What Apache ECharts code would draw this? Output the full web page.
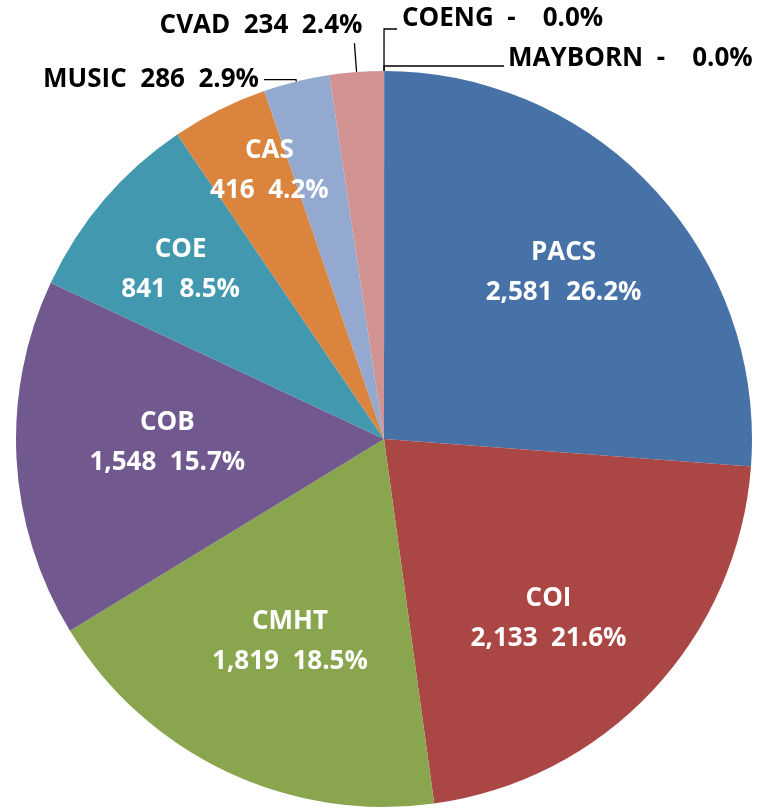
<!DOCTYPE html>
<html>
<head>
<meta charset="utf-8">
<script src="https://cdn.jsdelivr.net/npm/echarts@6/dist/echarts.min.js"></script>
<style>
  html, body { margin: 0; padding: 0; background: #fff; }
  #chart { width: 762px; height: 809px; }
</style>
</head>
<body>
<div id="chart"></div>
<script>
var names = ['PACS', 'COI', 'CMHT', 'COB', 'COE', 'CAS', 'MUSIC', 'CVAD', 'COENG', 'MAYBORN'];
var counts = [2581, 2133, 1819, 1548, 841, 416, 286, 234, 0, 0];
var colors = ['#4672A8', '#AA4644', '#89A54E', '#71588F', '#4198AF', '#DB843D', '#93A9CF', '#D19392', '#B9CD96', '#A99BBD'];

var total = 0;
for (var i = 0; i < counts.length; i++) total += counts[i];

function pct(v) { return (v / total * 100).toFixed(1) + '%'; }
function num(v) { return v === 0 ? '-  ' : v.toLocaleString('en-US'); }

// slices whose label sits outside with a leader line
// lh: height of a blank second line, lifts the text above the line end by lh/2
var outside = {
  'MUSIC':   { length: 2,  length2: 32,  dist: 5,  lh: 0 },
  'CVAD':    { length: 29, length2: 0,   dist: -8, lh: 36 },
  'COENG':   { length: 42, length2: 13,  dist: 5,  lh: 20 },
  'MAYBORN': { length: 5,  length2: 120, dist: 4,  lh: 14 }
};
// small nudges for the inside labels
var nudge = {
  'COI':  [-14, 12],
  'CMHT': [11, -19],
  'COB':  [28, -10],
  'COE':  [-17, -10],
  'CAS':  [-5, -49]
};

var font = '"Open Sans", "DejaVu Sans", sans-serif';

var pieData = [], labelData = [];
names.forEach(function (n, i) {
  var o = outside[n];
  var item = { name: n, value: counts[i], itemStyle: { color: colors[i] } };
  if (o) {
    item.label = {
      show: true,
      position: 'outside',
      distanceToLabelLine: o.dist
    };
    if (o.lh) item.label.lineHeight = o.lh;
    item.labelLine = { show: true, length: o.length, length2: o.length2 };
  } else {
    item.label = { show: false };
    item.labelLine = { show: false };
  }
  pieData.push(item);
  labelData.push({ name: n, value: counts[i], label: { show: !o } });
});

// start a hair left of 12 o'clock so the two empty slices land just right of it
var start = 89.98;

var myChart = echarts.init(document.getElementById('chart'));
var option = {
  backgroundColor: '#fff',
  animation: false,
  series: [
    {
      type: 'pie',
      center: [384, 439],
      radius: [0, 368],
      startAngle: start,
      clockwise: true,
      minAngle: 0.01,
      avoidLabelOverlap: false,
      minShowLabelAngle: 0,
      labelLayout: { hideOverlap: false },
      itemStyle: { borderWidth: 0 },
      label: {
        color: '#000',
        fontFamily: font,
        fontWeight: 'bold',
        fontSize: 26,
        formatter: function (p) {
          var o = outside[p.name];
          var txt = p.name + '  ' + num(p.value) + '  ' + pct(p.value);
          return o && o.lh ? txt + '\n ' : txt;
        }
      },
      labelLine: {
        lineStyle: { color: '#000', width: 1.3 },
        smooth: false
      },
      emphasis: { disabled: true },
      data: pieData
    },
    {
      type: 'pie',
      center: [384, 439],
      radius: [232, 252],
      startAngle: start,
      clockwise: true,
      silent: true,
      avoidLabelOverlap: false,
      itemStyle: { color: 'rgba(0,0,0,0)', borderWidth: 0 },
      label: {
        position: 'inside',
        color: '#fff',
        fontFamily: font,
        fontWeight: 'bold',
        fontSize: 26,
        lineHeight: 40,
        formatter: function (p) {
          return p.name + '\n' + num(p.value) + '  ' + pct(p.value);
        }
      },
      labelLayout: function (p) {
        var d = nudge[names[p.dataIndex]];
        return d ? { dx: d[0], dy: d[1] } : {};
      },
      labelLine: { show: false },
      emphasis: { disabled: true },
      data: labelData
    }
  ]
};
myChart.setOption(option);
</script>
</body>
</html>
